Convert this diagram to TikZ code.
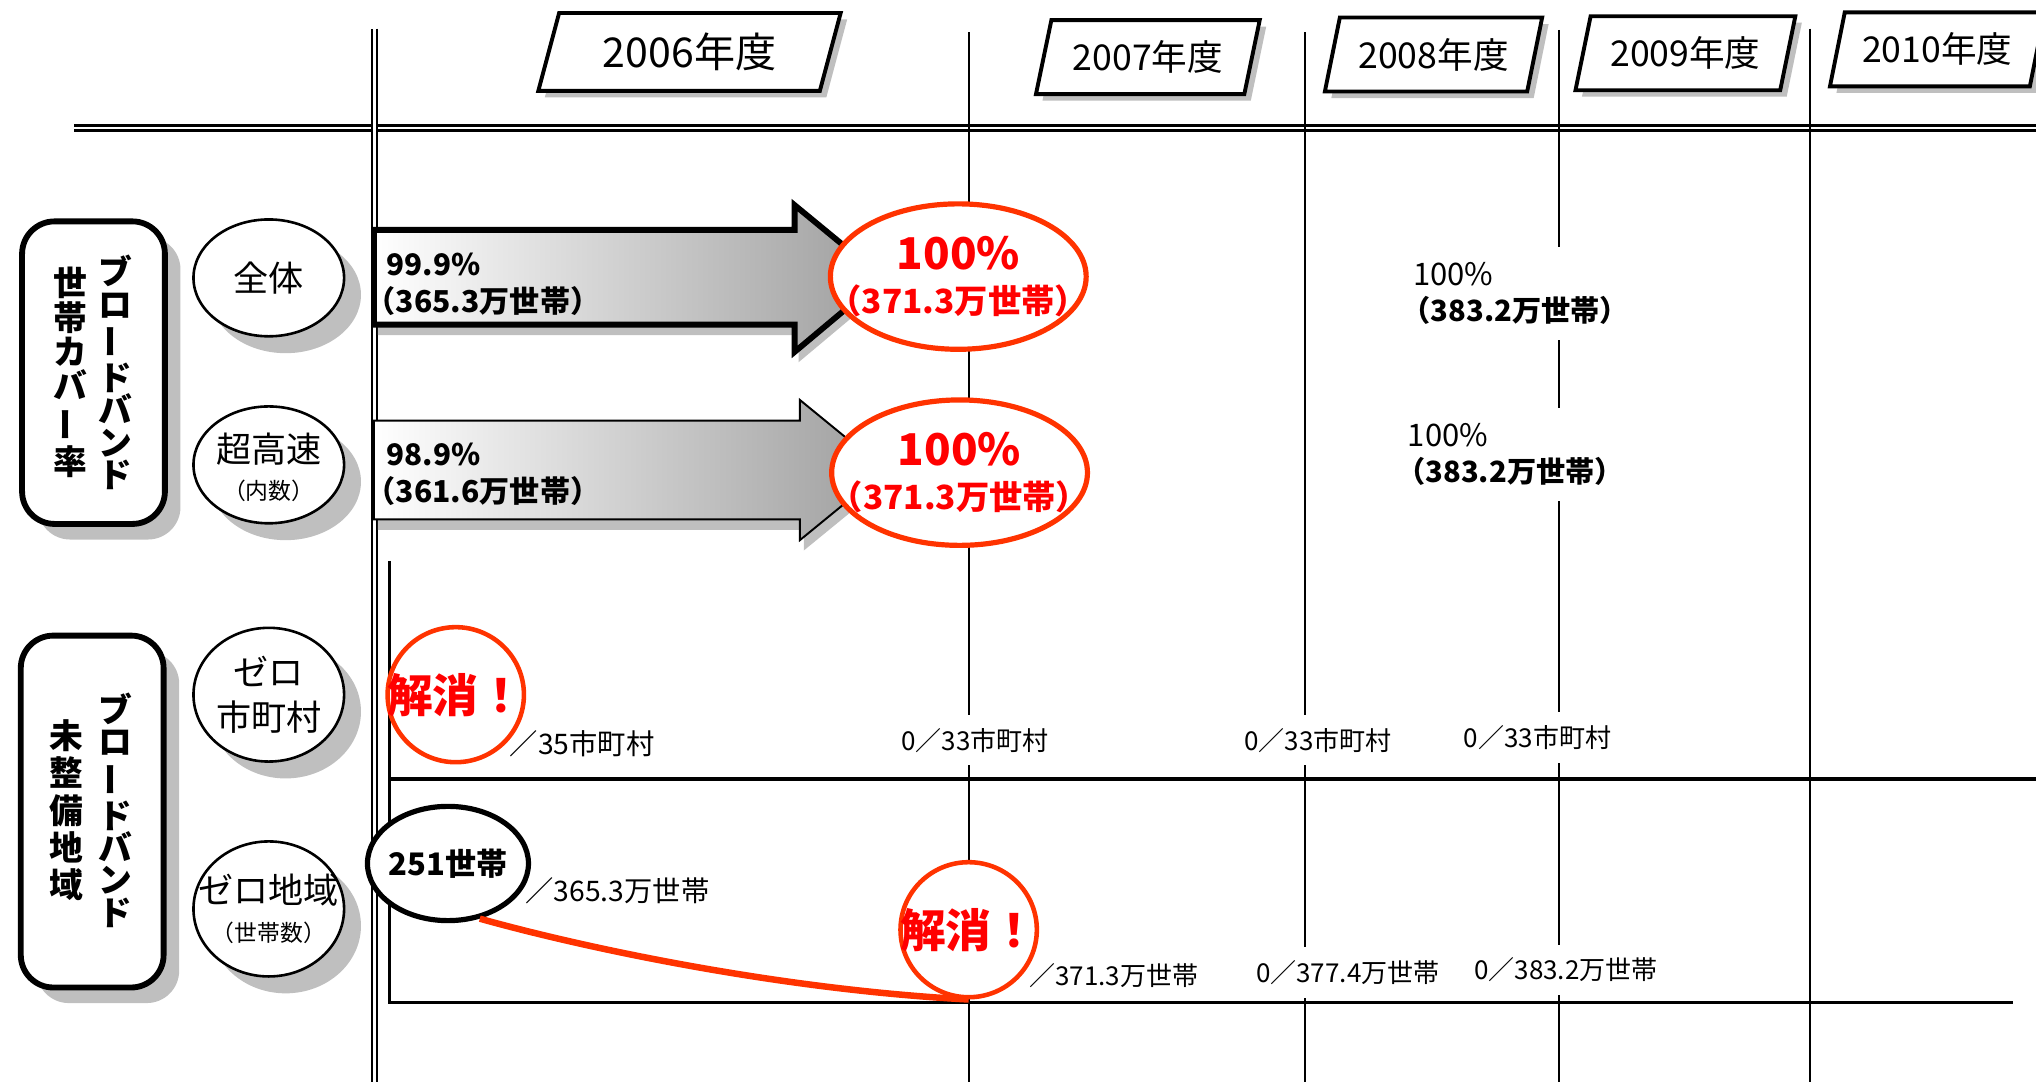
\documentclass[tikz,border=0pt]{standalone}
\usepackage{fontspec}
\usepackage{graphicx}
\setmainfont{Noto Sans CJK JP}
\usetikzlibrary{positioning,shapes.geometric,shadows}
\definecolor{solvedred}{HTML}{FF3300}
\definecolor{shadowgray}{HTML}{BFBFBF}
\newcommand{\ptsize}[1]{\fontsize{#1}{#1}\selectfont}
\newcommand{\tatebar}{\rotatebox[origin=c]{90}{ー}}
\tikzset{
    yearbox/.style={trapezium, trapezium left angle=70, trapezium right angle=110,
                    trapezium stretches=true, draw=black, line width=0.3mm, fill=white,
                    minimum height=5.7mm, inner sep=0pt, font=\ptsize{7.8},
                    drop shadow={shadow xshift=0.5mm, shadow yshift=-0.5mm, fill=shadowgray, opacity=1}},
    catbox/.style={rectangle, rounded corners=2.5mm, draw=black, line width=0.45mm, fill=white,
                    minimum width=11mm,
                    drop shadow={shadow xshift=1.2mm, shadow yshift=-1.2mm, fill=shadowgray, opacity=1}},
    tate/.style={align=center, inner sep=0pt, font=\fontsize{7.4}{7.1}\selectfont\bfseries},
    item/.style={ellipse, draw=black, line width=0.2mm, fill=white, minimum width=11.6mm,
                    minimum height=9mm, inner sep=0pt,
                    drop shadow={shadow xshift=1.3mm, shadow yshift=-1.3mm, fill=shadowgray, opacity=1}},
    itemtext/.style={align=center, inner sep=0pt, font=\ptsize{7.7}},
    goal/.style={ellipse, draw=solvedred, line width=0.4mm, fill=white, minimum width=19.7mm,
                    minimum height=11.2mm, inner sep=0pt},
    goaltext/.style={align=center, inner sep=0pt, text=red, font=\ptsize{7.3}\bfseries},
    solved/.style={ellipse, draw=solvedred, line width=0.35mm, fill=white, minimum width=10.5mm,
                    minimum height=10.4mm, inner sep=0pt},
    solvedtext/.style={inner sep=0pt, text=red, font=\ptsize{10}\bfseries},
    bigarrow/.style={draw=black, left color=white, right color=black!38, line join=miter,
                    drop shadow={shadow xshift=0.3mm, shadow yshift=-0.8mm, fill=shadowgray, opacity=1}},
    rule/.style={double, double distance=0.2mm, line width=0.18mm},
    gridline/.style={line width=0.15mm},
    axis/.style={line width=0.25mm},
    count/.style={inner sep=0pt, font=\ptsize{5.7}},
    gaplabel/.style={count, fill=white, inner xsep=0.5mm, inner ysep=1mm},
    pct/.style={inner sep=0pt, font=\ptsize{6.5}\bfseries},
    hh/.style={inner sep=0pt, font=\ptsize{6.6}\bfseries}}

\begin{document}
\begin{tikzpicture}[x=0.1mm, y=-0.1mm]
    \useasboundingbox (0,0) rectangle (1568,833);
    % grid of the fiscal years
    \draw[rule] (57,98.5) -- (1568,98.5);
    \draw[rule] (288.5,22) -- (288.5,833);
    \foreach \x/\top in {746/25, 1005/25, 1201/23, 1394/22}
        \draw[gridline] (\x,\top) -- (\x,833);
    \draw[axis] (300,432) -- (300,772) -- (1550,772);
    \draw[axis] (300,600) -- (1568,600);

    % fiscal years
    \node[yearbox, minimum width=23.3mm, minimum height=6mm, font=\ptsize{9}]
        (y2006) at (531,40) {2006年度};
    \node[yearbox, minimum width=17.3mm] (y2007) at (884,44) {2007年度};
    \node[yearbox, minimum width=16.8mm] (y2008) at (1104,42) {2008年度};
    \node[yearbox, minimum width=17mm] (y2009) at (1298,41) {2009年度};
    \node[yearbox, minimum width=16.6mm] (y2010) at (1492,38) {2010年度};

    % categories
    \node[catbox, minimum height=23.3mm] (coverage) at (72,287) {};
    \node[tate] (coverage-r) at (89,287) {ブ\\ロ\\\tatebar\\ド\\バ\\ン\\ド};
    \node[tate, font=\fontsize{7.4}{7.5}\selectfont\bfseries]
        (coverage-l) at (54,287) {世\\帯\\カ\\バ\\\tatebar\\率};
    \node[catbox, minimum height=27.1mm] (unserved) at (71,625) {};
    \node[tate] (unserved-r) at (89,624) {ブ\\ロ\\\tatebar\\ド\\バ\\ン\\ド};
    \node[tate, font=\fontsize{7.4}{8.2}\selectfont\bfseries]
        (unserved-l) at (51,624) {未\\整\\備\\地\\域};

    \node[item, label={[itemtext]center:全体}] (all) at (207,214) {};
    \node[item, label={[itemtext, yshift=-0.2mm]center:超高速\\[0.5pt]{\ptsize{5}（内数）}}]
        (ultra) at (207,358) {};
    \node[item, minimum height=10.3mm, label={[itemtext]center:ゼロ\\[2.2pt]市町村}]
        (zeromuni) at (207,535) {};
    \node[item, minimum height=10.4mm, label={[itemtext]center:ゼロ地域\\[0.5pt]{\ptsize{5}（世帯数）}}]
        (zeroarea) at (207,700) {};

    % coverage arrows
    \draw[bigarrow, line width=0.45mm] (288,177) -- (612,177) -- (612,158) -- (680,214)
        -- (612,271) -- (612,250) -- (288,250) -- cycle;
    \draw[bigarrow, line width=0.15mm] (288,324) -- (616,324) -- (616,308) -- (682,362)
        -- (616,416) -- (616,400) -- (288,400) -- cycle;
    \node[pct, anchor=west] (all-now) at (297,204) {99.9\%};
    \node[hh, anchor=west] (all-hh) at (281,232) {（365.3万世帯）};
    \node[pct, anchor=west] (ultra-now) at (297,350) {98.9\%};
    \node[hh, anchor=west] (ultra-hh) at (281,378) {（361.6万世帯）};

    \node[goal, label={[goaltext]center:{\ptsize{9.6}100\%}\\[2.4pt]（371.3万世帯）}]
        (all-goal) at (738,213) {};
    \node[goal, label={[goaltext]center:{\ptsize{9.6}100\%}\\[2.4pt]（371.3万世帯）}]
        (ultra-goal) at (739,364) {};

    \node[gaplabel, align=left, inner ysep=1.2mm, font=\ptsize{6.4}] (all-2009) at (1167,226)
        {\hspace{2.5pt}{\ptsize{6.8}100\%}\\[1.6pt]{\bfseries （383.2万世帯）}};
    \node[gaplabel, align=left, inner ysep=1.2mm, font=\ptsize{6.4}] (ultra-2009) at (1163,350)
        {\hspace{2.5pt}{\ptsize{6.8}100\%}\\[1.6pt]{\bfseries （383.2万世帯）}};

    % unserved areas
    \node[solved, label={[solvedtext]center:解消！}] (muni-solved) at (351,535) {};
    \node[count, anchor=west, font=\ptsize{6.2}] (muni-2006) at (392,573) {／35市町村};
    \node[gaplabel] (muni-2007) at (751,570) {0／33市町村};
    \node[gaplabel] (muni-2008) at (1015,570) {0／33市町村};
    \node[gaplabel] (muni-2009) at (1184,568) {0／33市町村};

    \node[ellipse, draw=black, line width=0.4mm, fill=white, minimum width=12.4mm,
        minimum height=8.8mm, inner sep=0pt,
        label={[inner sep=0pt, font=\ptsize{6.8}\bfseries]center:251世帯}]
        (area-now) at (345,665) {};
    \node[count, anchor=west, font=\ptsize{6.2}] (area-2006) at (404,686) {／365.3万世帯};
    \node[solved, label={[solvedtext]center:解消！}] (area-solved) at (746,716) {};
    \draw[solvedred, line width=0.5mm] (area-now.-60) .. controls (450,730) and (600,762)
        .. (area-solved.south);
    \node[count, anchor=west] (area-2007) at (792,751) {／371.3万世帯};
    \node[gaplabel] (area-2008) at (1038,749) {0／377.4万世帯};
    \node[gaplabel] (area-2009) at (1206,747) {0／383.2万世帯};
\end{tikzpicture}
\end{document}
